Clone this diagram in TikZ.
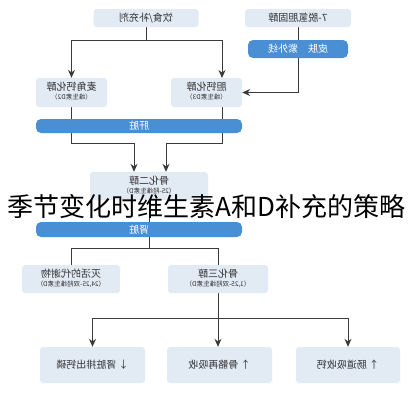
\documentclass[tikz,border=0pt]{standalone}
\usepackage{fontspec}
\usepackage{graphicx}
\newfontfamily\cjk{Noto Sans CJK SC}
\usetikzlibrary{arrows.meta,backgrounds}

\definecolor{boxfill}{HTML}{E2EAF4}
\definecolor{barblue}{HTML}{4A8FD4}
\definecolor{inkgray}{HTML}{333333}
\definecolor{linegray}{HTML}{3A3A3A}

% the whole chart is printed mirrored
\newcommand{\flip}[1]{\reflectbox{#1}}
\newcommand{\twoline}[2]{\reflectbox{\begin{tabular}{@{}c@{}}#1\\[-2pt]{\fontsize{6.5}{7}\selectfont #2}\end{tabular}}}

\begin{document}
\begin{tikzpicture}[x=1pt, y=-1pt,
    every node/.style={font=\cjk\fontsize{10}{11}\selectfont},
    lightbox/.style={fill=boxfill, rounded corners=3pt, text=inkgray, inner sep=0pt},
    bluebar/.style={fill=barblue, rounded corners=5pt, text=white, inner sep=0pt},
    link/.style={draw=linegray, line width=1pt},
    arr/.style={link, -{Stealth[length=8pt,width=7pt]}}]
    \useasboundingbox (0,0) rectangle (412,400);

    % top row
    \node[lightbox, minimum width=105pt, minimum height=18pt] (diet) at (146,18) {\flip{饮食/补充剂}};
    \node[lightbox, minimum width=106pt, minimum height=18pt] (dehydro) at (298,18) {\flip{7-脱氢胆固醇}};
    \node[bluebar, minimum width=100pt, minimum height=18pt] (skin) at (298,49) {\flip{皮肤\quad 紫外线}};

    % vitamin D2 / D3
    \node[lightbox, minimum width=71pt, minimum height=29pt] (d2) at (71.5,92.5) {\twoline{麦角钙化醇}{（维生素D2）}};
    \node[lightbox, minimum width=71pt, minimum height=29pt] (d3) at (206.5,92.5) {\twoline{胆钙化醇}{（维生素D3）}};
    \node[bluebar, minimum width=206pt, minimum height=14pt] (liver) at (139,126) {\flip{肝脏}};

    % calcidiol and kidney
    \node[lightbox, minimum width=118pt, minimum height=28pt] (c2) at (149,186) {\twoline{骨化二醇}{（25-羟维生素D）}};
    \node[bluebar, minimum width=206pt, minimum height=15pt] (kidney) at (139,229.5) {\flip{肾脏}};

    % metabolites
    \node[lightbox, minimum width=98pt, minimum height=28pt] (inact) at (71,279) {\twoline{灭活的代谢物}{（24,25-双羟维生素D）}};
    \node[lightbox, minimum width=100pt, minimum height=28pt] (c3) at (218,279) {\twoline{骨化三醇}{（1,25-双羟维生素D）}};

    % effects
    \node[lightbox, minimum width=105pt, minimum height=36pt] (renal) at (92.5,365) {\flip{↓ 肾脏排出钙磷}};
    \node[lightbox, minimum width=105pt, minimum height=36pt] (bone) at (219.5,365) {\flip{↑ 骨骼再吸收}};
    \node[lightbox, minimum width=104pt, minimum height=36pt] (gut) at (348,365) {\flip{↑ 肠道吸收钙}};

    % junctions
    \coordinate (j1) at (146,40);
    \coordinate (d3in) at (222,78);
    \coordinate (k1) at (134,143);
    \coordinate (k2) at (166,143);
    \coordinate (j3) at (149,248);
    \coordinate (j4) at (218,318);

    \begin{pgfonlayer}{background}
        \draw[link] (diet.south) -- (j1);
        \draw[arr] (j1) -| (d2.north);
        \draw[arr] (j1) -| (d3in);
        \draw[link] (dehydro.south) -- (skin.north);
        \draw[arr] (skin.south) |- (d3.east);
        \draw[arr] (d2.south) |- (k1) -- (k1 |- c2.north);
        \draw[arr] (d3in |- d3.south) |- (k2) -- (k2 |- c2.north);
        \draw[link] (c2.south) -- (j3);
        \draw[link] (j3) -| (inact.north);
        \draw[link] (j3) -| (c3.north);
        \draw[link] (c3.south) -- (j4);
        \draw[arr] (j4) -| (renal.north);
        \draw[arr] (j4) -- (j4 |- bone.north);
        \draw[arr] (j4) -| (gut.north);
    \end{pgfonlayer}

    % title laid over the chart
    \node[font=\cjk\fontsize{26}{30}\selectfont, text=black] (title) at (206.5,207) {季节变化时维生素A和D补充的策略};
\end{tikzpicture}
\end{document}
